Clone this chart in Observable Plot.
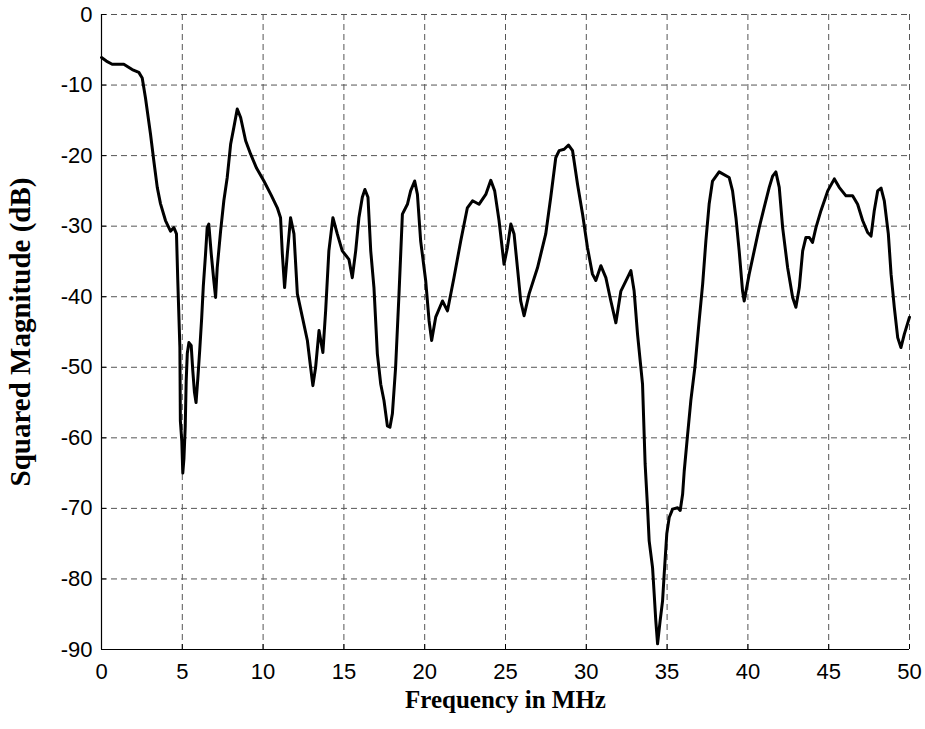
<!DOCTYPE html>
<html><head><meta charset="utf-8">
<script src="https://cdn.jsdelivr.net/npm/d3@7"></script>
<script src="https://cdn.jsdelivr.net/npm/@observablehq/plot@0.6"></script>
<style>body{margin:0;background:#fff} #chart svg{display:block}</style>
</head><body><div id="chart"></div>
<script>
const freqMHz = [0,0.3,0.66,1.38,1.9,2.31,2.52,2.72,3.03,3.24,3.45,3.65,3.96,4.27,4.48,4.64,4.72,4.85,4.88,4.97,5.03,5.1,5.18,5.24,5.31,5.41,5.55,5.65,5.75,5.85,5.96,6.08,6.2,6.3,6.44,6.54,6.64,6.79,6.95,7.06,7.16,7.37,7.57,7.78,7.99,8.19,8.4,8.61,8.92,9.23,9.6,10.05,10.5,10.88,11.08,11.19,11.33,11.5,11.7,11.91,12.12,12.43,12.74,12.94,13.08,13.25,13.46,13.7,13.87,14.07,14.32,14.59,14.9,15.31,15.52,15.73,15.93,16.14,16.3,16.49,16.66,16.86,17.07,17.28,17.48,17.69,17.85,18.0,18.2,18.41,18.62,18.93,19.13,19.38,19.55,19.75,20.06,20.27,20.43,20.68,21.1,21.41,21.81,22.23,22.64,22.96,23.36,23.78,24.09,24.33,24.6,24.91,25.12,25.33,25.53,25.74,25.94,26.15,26.46,26.98,27.49,27.8,28.11,28.32,28.63,28.9,29.15,29.46,29.77,30.07,30.38,30.59,30.9,31.21,31.52,31.83,32.14,32.55,32.76,32.96,33.17,33.48,33.58,33.64,33.79,33.89,34.1,34.2,34.3,34.41,34.57,34.72,34.82,34.98,35.13,35.34,35.65,35.81,35.96,36.06,36.27,36.47,36.72,36.98,37.2,37.4,37.6,37.81,38.22,38.84,39.05,39.26,39.46,39.67,39.77,40.08,40.39,40.7,41.0,41.32,41.53,41.73,41.94,42.15,42.46,42.77,42.97,43.18,43.39,43.59,43.8,44.0,44.21,44.52,44.94,45.35,45.65,46.07,46.48,46.79,47.1,47.41,47.62,47.82,48.03,48.24,48.44,48.69,48.86,49.06,49.27,49.47,49.68,50.0];
const magDB = [-6.1,-6.6,-7.05,-7.05,-7.8,-8.2,-9.0,-11.8,-16.9,-20.8,-24.5,-26.8,-29.2,-30.7,-30.2,-31.1,-37.7,-47.2,-57.6,-60.5,-65.0,-63,-58.5,-52,-48,-46.5,-46.9,-50.5,-53.5,-55.0,-51.6,-47.5,-43,-38.5,-33.9,-30.2,-29.7,-33.9,-37.7,-40.1,-35.9,-30.7,-26.4,-23.1,-18.4,-16.0,-13.4,-14.6,-17.9,-19.8,-21.8,-23.6,-25.6,-27.4,-28.8,-33.9,-38.7,-33.9,-28.8,-31.1,-39.6,-42.9,-46.2,-50.0,-52.6,-50.0,-44.8,-47.9,-42.0,-33.5,-28.8,-31.1,-33.5,-34.7,-37.3,-33.5,-28.8,-25.9,-24.8,-25.9,-33.5,-38.7,-48.1,-52.4,-54.7,-58.3,-58.5,-56.6,-50.0,-39.6,-28.3,-26.9,-25.0,-23.6,-25.5,-32.1,-37.7,-43.4,-46.2,-42.9,-40.6,-42.0,-37.3,-32.1,-27.4,-26.4,-26.9,-25.5,-23.5,-25.0,-29.2,-35.4,-33.0,-29.7,-31.1,-35.9,-40.6,-42.7,-39.6,-35.9,-31.1,-25.9,-20.3,-19.3,-19.1,-18.5,-19.3,-24.1,-28.3,-33.0,-36.8,-37.7,-35.6,-37.3,-40.6,-43.7,-39.2,-37.3,-36.3,-39.2,-45.3,-52.4,-59.5,-63.7,-69.9,-74.6,-78.4,-82.1,-85.9,-89.2,-85.9,-83.1,-79.3,-73.6,-71.3,-70.1,-69.9,-70.3,-68.0,-64.7,-59.5,-54.7,-50.0,-43.5,-38.2,-32.1,-26.9,-23.6,-22.3,-23.1,-25.0,-28.8,-33.5,-39.2,-40.6,-36.8,-33.5,-30.2,-27.4,-24.5,-22.9,-22.3,-24.5,-30.2,-35.9,-40.1,-41.5,-38.7,-33.5,-31.6,-31.6,-32.3,-30.2,-27.8,-25.0,-23.3,-24.5,-25.7,-25.7,-26.9,-29.2,-30.9,-31.4,-27.8,-25.0,-24.6,-26.4,-31.1,-36.8,-41.5,-45.8,-47.2,-45.3,-42.9];
const xTicks = [0,5,10,15,20,25,30,35,40,45,50];
const yTicks = [0,-10,-20,-30,-40,-50,-60,-70,-80,-90];
const xLabel = "Frequency in MHz";
const yLabel = "Squared Magnitude (dB)";

const data = freqMHz.map((f, i) => ({f, m: magDB[i]}));
const xMin = xTicks[0], yMin = yTicks[yTicks.length - 1];
const gridStyle = {stroke: "#555", strokeOpacity: 1, strokeWidth: 1, strokeDasharray: "6,4"};
const serif = "'Liberation Serif', 'Times New Roman', serif";
const fmt = d => String(d);

const chart = Plot.plot({
  width: 925, height: 729,
  marginLeft: 101, marginRight: 16, marginTop: 14, marginBottom: 80,
  style: {fontFamily: "'Liberation Sans', Arial, sans-serif", fontSize: "22px", color: "#000", background: "#fff"},
  x: {domain: [0, 50]},
  y: {domain: [-90, 0]},
  marks: [
    Plot.gridX(xTicks.filter(t => t !== xMin), gridStyle),
    Plot.gridY(yTicks.filter(t => t !== yMin), gridStyle),
    Plot.ruleX([xMin], {stroke: "#000", strokeWidth: 1.2}),
    Plot.ruleY([yMin], {stroke: "#000", strokeWidth: 1.2}),
    Plot.axisX(xTicks, {anchor: "bottom", tickSize: -5, tickPadding: 19, label: null, fontSize: 22, tickFormat: fmt}),
    Plot.axisY(yTicks, {anchor: "left", tickSize: -5, tickPadding: 14, label: null, fontSize: 22, tickFormat: fmt}),
    Plot.line(data, {x: "f", y: "m", stroke: "#000", strokeWidth: 3, strokeLinejoin: "round"}),
    Plot.text([xLabel], {text: d => d, frameAnchor: "bottom", dy: 41, lineAnchor: "top", fontFamily: serif, fontWeight: "bold", fontSize: 25}),
    Plot.text([yLabel], {text: d => d, frameAnchor: "left", textAnchor: "middle", lineAnchor: "middle", rotate: -90, dx: -81, fontFamily: serif, fontWeight: "bold", fontSize: 29})
  ]
});
document.getElementById("chart").appendChild(chart);
</script>
</body></html>
